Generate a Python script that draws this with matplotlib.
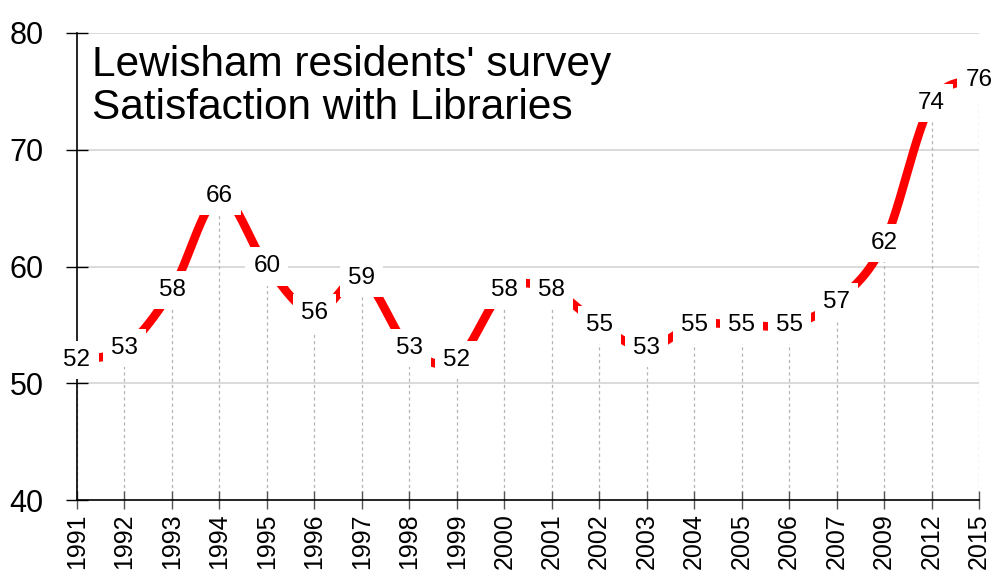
import numpy as np
import matplotlib
matplotlib.use("Agg")
from matplotlib import pyplot as plt

years = ["1991", "1992", "1993", "1994", "1995", "1996", "1997", "1998", "1999", "2000",
         "2001", "2002", "2003", "2004", "2005", "2006", "2007", "2009", "2012", "2015"]
scores = [52, 53, 58, 66, 60, 56, 59, 53, 52, 58,
          58, 55, 53, 55, 55, 55, 57, 62, 74, 76]
y_ticks = [40, 50, 60, 70, 80]

SANS = ["Liberation Sans", "DejaVu Sans"]


def smooth(xs, ys, steps=40):
    # cardinal (Catmull-Rom) curve through the points, like a spreadsheet smoothed line
    xs = np.asarray(xs, dtype=float)
    ys = np.asarray(ys, dtype=float)
    px = np.concatenate([[xs[0]], xs, [xs[-1]]])
    py = np.concatenate([[ys[0]], ys, [ys[-1]]])
    t = np.linspace(0, 1, steps)
    out_x, out_y = [], []
    for i in range(1, len(px) - 2):
        for p, out in ((px, out_x), (py, out_y)):
            p0, p1, p2, p3 = p[i - 1], p[i], p[i + 1], p[i + 2]
            c1 = p1 + (p2 - p0) / 6
            c2 = p2 - (p3 - p1) / 6
            seg = ((1 - t) ** 3 * p1 + 3 * (1 - t) ** 2 * t * c1
                   + 3 * (1 - t) * t ** 2 * c2 + t ** 3 * p2)
            out.extend(seg)
    return np.array(out_x), np.array(out_y)


def main():
    fig = plt.figure(figsize=(9.93, 5.77), dpi=100)
    ax = fig.add_axes([77 / 993, 1 - 500 / 577, 902 / 993, 467 / 577])

    x = np.arange(len(years))
    ax.set_xlim(0, len(years) - 1)
    ax.set_ylim(40, 80)

    for v in y_ticks[1:]:
        ax.axhline(v, color="#d4d4d4", lw=1.2, zorder=1)
    ax.vlines(x, 40, scores, colors="#b4b4b4", linestyles=(0, (2.5, 2.5)), lw=0.9, zorder=1)

    sx, sy = smooth(x, scores)
    ax.plot(sx, sy, color="#ff0000", lw=6.2, solid_capstyle="butt", zorder=2)

    for xi, v in zip(x, scores):
        ax.text(xi, v, str(v), ha="center", va="center", fontsize=17.5, family=SANS,
                bbox=dict(boxstyle="square,pad=0.33", fc="white", ec="none"), zorder=5)

    ax.text(15 / 902, 0.975, "Lewisham residents' survey\nSatisfaction with Libraries",
            transform=ax.transAxes, ha="left", va="top", fontsize=30.5, family=SANS,
            linespacing=1.12, zorder=6)

    ax.set_xticks(x)
    ax.set_xticklabels(years, rotation=90, fontsize=18, family=SANS)
    ax.set_yticks(y_ticks)
    ax.set_yticklabels([str(v) for v in y_ticks], fontsize=22, family=SANS)
    ax.tick_params(axis="y", direction="inout", length=16, width=1, pad=16)
    ax.tick_params(axis="x", direction="inout", length=13, width=1, pad=3, color="#555555")

    for side in ("top", "right"):
        ax.spines[side].set_visible(False)
    for side in ("left", "bottom"):
        ax.spines[side].set_linewidth(1.2)

    fig.savefig("out.png", dpi=100)


if __name__ == "__main__":
    main()
